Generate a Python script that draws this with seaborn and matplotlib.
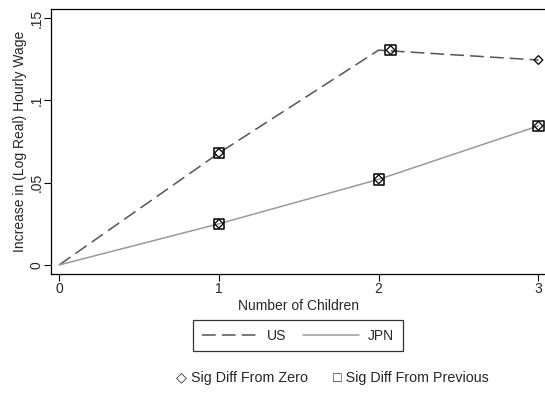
import matplotlib
matplotlib.use("Agg")
import matplotlib.pyplot as plt
import numpy as np
import pandas as pd
import seaborn as sns
from matplotlib.lines import Line2D

children = [0, 1, 2, 3]
us = [0.0, 0.068, 0.1305, 0.1245]
jpn = [0.0, 0.025, 0.052, 0.0845]

# marker positions (the US point at 2 children is drawn a bit to the right)
us_marker_x = [0, 1, 2.075, 3]
us_sig_zero = [False, True, True, True]
us_sig_prev = [False, True, True, False]
jpn_sig_zero = [False, True, True, True]
jpn_sig_prev = [False, True, True, True]

x_ticks = [0, 1, 2, 3]
y_ticks = [0, 0.05, 0.1, 0.15]
y_tick_labels = ["0", ".05", ".1", ".15"]

sns.set_style("white")
plt.rcParams["font.family"] = ["Liberation Sans", "DejaVu Sans"]
plt.rcParams["font.size"] = 10

df = pd.DataFrame({
    "children": children * 2,
    "inc": us + jpn,
    "country": ["US"] * 4 + ["JPN"] * 4,
})

fig = plt.figure(figsize=(5.45, 3.94), dpi=100)
ax = fig.add_axes([50.7 / 545, 120 / 394, 496.5 / 545, 265 / 394])

sns.lineplot(data=df, x="children", y="inc", hue="country", style="country",
             palette={"US": "#555555", "JPN": "#9a9a9a"},
             dashes={"US": (9, 4), "JPN": ""}, linewidth=1.1,
             legend=False, ax=ax)

marks = pd.DataFrame({
    "x": us_marker_x + children,
    "y": us + jpn,
    "zero": us_sig_zero + jpn_sig_zero,
    "prev": us_sig_prev + jpn_sig_prev,
})
sq = marks[marks["prev"]]
dm = marks[marks["zero"]]
ax.scatter(sq["x"], sq["y"], marker="s", s=55, facecolors="none",
           edgecolors="black", linewidths=1.1, zorder=5)
ax.scatter(dm["x"], dm["y"], marker="D", s=20, facecolors="none",
           edgecolors="black", linewidths=0.9, zorder=6)

ax.set_xlim(-0.053, 3.055)
ax.set_ylim(-0.0055, 0.1555)
ax.set_xticks(x_ticks)
ax.set_xticklabels([str(v) for v in x_ticks])
ax.set_yticks(y_ticks)
ax.set_yticklabels(y_tick_labels, rotation=90, va="center")
ax.tick_params(direction="out", length=5, width=0.8, color="black",
               labelsize=10, pad=1, left=True, bottom=True)
ax.tick_params(axis="y", pad=0)
for s in ax.spines.values():
    s.set_color("black")
    s.set_linewidth(0.9)

ax.set_xlabel("Number of Children", fontsize=10, labelpad=2)
ax.set_ylabel("Increase in (Log Real) Hourly Wage", fontsize=10, labelpad=2)

handles = [
    Line2D([], [], color="#555555", linestyle=(0, (9, 4)), linewidth=1.1),
    Line2D([], [], color="#9a9a9a", linewidth=1.1),
]
leg = fig.legend(handles, ["US", "JPN"], ncol=2, loc="center",
                 bbox_to_anchor=(298 / 545, 1 - 335.5 / 394),
                 frameon=True, fancybox=False, handlelength=4.0,
                 columnspacing=1.2, handletextpad=0.7, fontsize=10,
                 borderpad=0.6, borderaxespad=0)
leg.get_frame().set_edgecolor("black")
leg.get_frame().set_linewidth(0.9)

fig.text(176 / 545, 1 - 378 / 394, "\u25c7 Sig Diff From Zero",
         fontsize=10.3, va="center", ha="left")
fig.text(333 / 545, 1 - 378 / 394, "\u25a1 Sig Diff From Previous",
         fontsize=10.3, va="center", ha="left")

fig.savefig("out.png", dpi=100)
